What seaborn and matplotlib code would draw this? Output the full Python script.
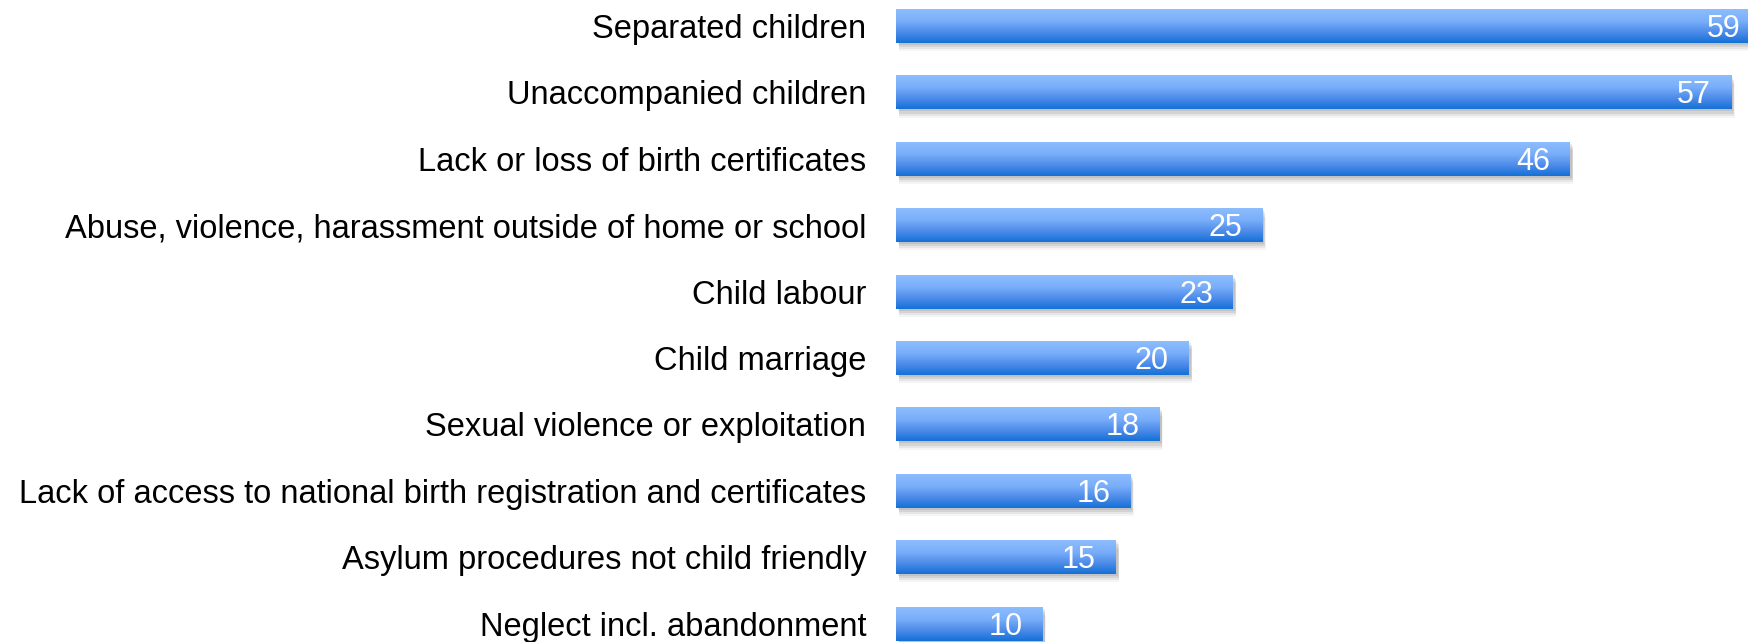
import numpy as np
import pandas as pd
import matplotlib
matplotlib.use("Agg")
import matplotlib.pyplot as plt
import matplotlib.patheffects as pe
from matplotlib.colors import LinearSegmentedColormap
import seaborn as sns

categories = [
    "Separated children",
    "Unaccompanied children",
    "Lack or loss of birth certificates",
    "Abuse, violence, harassment outside of home or school",
    "Child labour",
    "Child marriage",
    "Sexual violence or exploitation",
    "Lack of access to national birth registration and certificates",
    "Asylum procedures not child friendly",
    "Neglect incl. abandonment",
]
values = [59, 57, 46, 25, 23, 20, 18, 16, 15, 10]

sns.set_theme(style="white")
plt.rcParams['font.family'] = ['Liberation Sans', 'DejaVu Sans']

df = pd.DataFrame({"category": categories, "value": values})

fig = plt.figure(figsize=(17.48, 6.42), dpi=100)
ax = fig.add_axes([896 / 1748, 0, 1 - 896 / 1748, 1])

sns.barplot(data=df, x="value", y="category", orient="h", color="#5c9bef",
            width=0.51, ax=ax, saturation=1)

ax.set_xlim(0, 852 / 14.65)
ax.set_ylim(9.277, -0.392)
for s in ax.spines.values():
    s.set_visible(False)
ax.set_xticks([])
ax.set_xlabel("")
ax.set_ylabel("")
ax.tick_params(axis="y", length=0, pad=21.5, labelsize=23.5, labelcolor="black")

cmap = LinearSegmentedColormap.from_list(
    "grad", [(0, "#8dbdfd"), (0.35, "#7aaefa"), (0.7, "#4a8ae8"), (1, "#1470d8")])
grad = np.linspace(0, 1, 256).reshape(-1, 1)

shadow = [
    pe.SimplePatchShadow(offset=(2.5, -6), shadow_rgbFace="#000000", alpha=0.04),
    pe.SimplePatchShadow(offset=(2, -4.5), shadow_rgbFace="#000000", alpha=0.06),
    pe.SimplePatchShadow(offset=(2, -3), shadow_rgbFace="#000000", alpha=0.08),
    pe.SimplePatchShadow(offset=(1.5, -1.5), shadow_rgbFace="#000000", alpha=0.08),
    pe.Normal(),
]

for patch, v in zip(ax.patches, values):
    patch.set_edgecolor("none")
    patch.set_path_effects(shadow)
    x0, y0 = patch.get_x(), patch.get_y()
    w, h = patch.get_width(), patch.get_height()
    im = ax.imshow(grad, cmap=cmap, aspect="auto",
                   extent=(x0, x0 + w, y0 + h, y0), origin="upper",
                   zorder=patch.get_zorder() + 0.5)
    im.set_clip_path(patch)
    ax.annotate(str(v), xy=(x0 + w, y0 + h / 2), xytext=(-20, -3),
                textcoords="offset pixels", ha="right", va="center",
                color="white", fontsize=22, zorder=5, annotation_clip=False)

ax.set_xlim(0, 852 / 14.65)
ax.set_ylim(9.277, -0.392)

fig.savefig("out.png", dpi=100)
